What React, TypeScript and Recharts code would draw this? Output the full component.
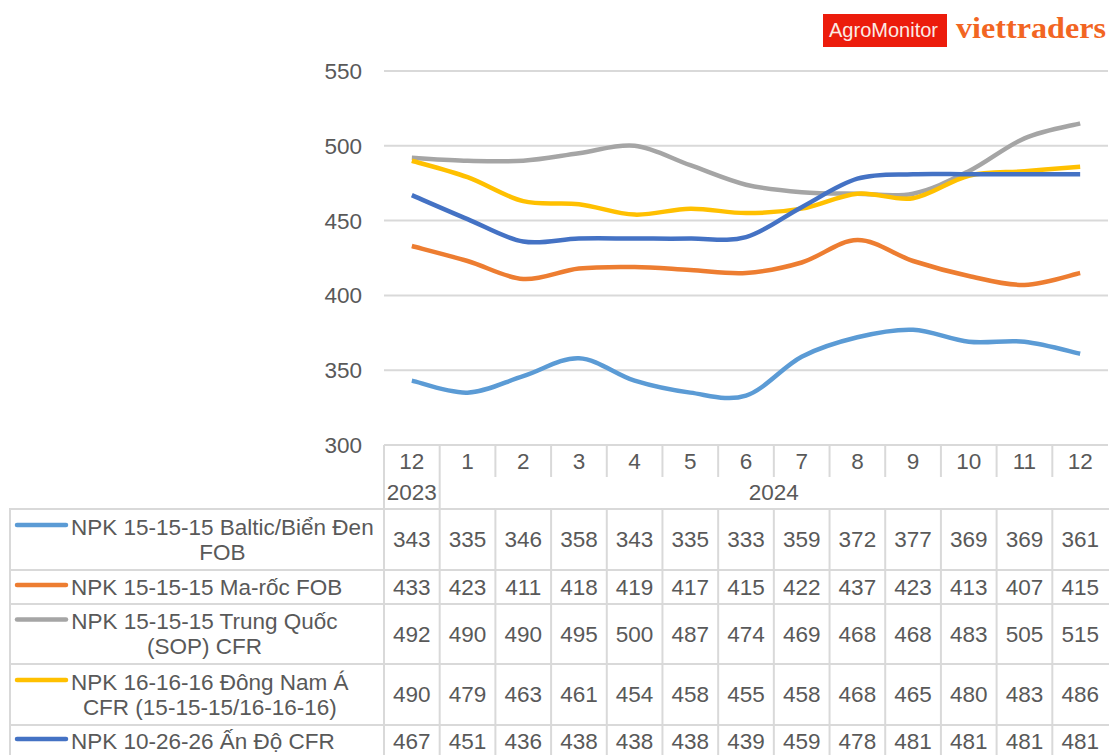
import React from 'react';
import { LineChart, Line, XAxis, YAxis, CartesianGrid } from 'recharts';

// months on the category axis (12/2023 then 1..12/2024)
const months = ['12', '1', '2', '3', '4', '5', '6', '7', '8', '9', '10', '11', '12'];
const yearLabels = ['2023', '2024'];

const baltic = [343, 335, 346, 358, 343, 335, 333, 359, 372, 377, 369, 369, 361];
const maroc = [433, 423, 411, 418, 419, 417, 415, 422, 437, 423, 413, 407, 415];
const trungQuoc = [492, 490, 490, 495, 500, 487, 474, 469, 468, 468, 483, 505, 515];
const dongNamA = [490, 479, 463, 461, 454, 458, 455, 458, 468, 465, 480, 483, 486];
const anDo = [467, 451, 436, 438, 438, 438, 439, 459, 478, 481, 481, 481, 481];

const seriesKeys = ['baltic', 'maroc', 'trungQuoc', 'dongNamA', 'anDo'];
const seriesValues = [baltic, maroc, trungQuoc, dongNamA, anDo];
const seriesNames = [
  ['NPK 15-15-15 Baltic/Biển Đen', 'FOB'],
  ['NPK 15-15-15 Ma-rốc FOB'],
  ['NPK 15-15-15 Trung Quốc', '(SOP) CFR'],
  ['NPK 16-16-16 Đông Nam Á', 'CFR (15-15-15/16-16-16)'],
  ['NPK 10-26-26 Ấn Độ CFR'],
];
const seriesColors = ['#5B9BD5', '#ED7D31', '#A5A5A5', '#FFC000', '#4472C4'];
const yTicks = [300, 350, 400, 450, 500, 550];

const data = months.map((m, i) => {
  const row: Record<string, any> = { month: m };
  seriesKeys.forEach((k, s) => (row[k] = seriesValues[s][i]));
  return row;
});

// layout
const W = 1110;
const H = 755;
const PLOT_LEFT = 384;
const PLOT_RIGHT = 1108;
const PLOT_TOP = 71;
const AXIS_Y = 445;
const BAND = (PLOT_RIGHT - PLOT_LEFT) / months.length;
const FONT = '"Liberation Sans", Arial, sans-serif';
const FS = 22.5;
const TEXT = '#595959';
const BORDER = '#D9D9D9';
const HEADER_TICK_END = 477;
const TABLE_TOP = 509;
const ROWS = [
  { top: 509, bottom: 570 },
  { top: 570, bottom: 604 },
  { top: 604, bottom: 664 },
  { top: 664, bottom: 725 },
  { top: 725, bottom: 757 },
];
const LABEL_LEFT = 10;
const LABEL_TEXT_X = 71;

let ctx: CanvasRenderingContext2D | null = null;
function textWidth(s: string) {
  if (!ctx) ctx = document.createElement('canvas').getContext('2d');
  if (!ctx) return s.length * FS * 0.5;
  ctx.font = `${FS}px "Liberation Sans", Arial, sans-serif`;
  return ctx.measureText(s).width;
}

// Excel-like smoothed line (Catmull-Rom as cubic bezier)
function excelCurve(context: any) {
  let pts: number[][] = [];
  return {
    areaStart() {},
    areaEnd() {},
    lineStart() {
      pts = [];
    },
    point(x: number, y: number) {
      pts.push([+x, +y]);
    },
    lineEnd() {
      if (!pts.length) return;
      context.moveTo(pts[0][0], pts[0][1]);
      for (let i = 0; i < pts.length - 1; i++) {
        const p0 = pts[i - 1] || pts[i];
        const p1 = pts[i];
        const p2 = pts[i + 1];
        const p3 = pts[i + 2] || p2;
        context.bezierCurveTo(
          p1[0] + (p2[0] - p0[0]) / 6,
          p1[1] + (p2[1] - p0[1]) / 6,
          p2[0] - (p3[0] - p1[0]) / 6,
          p2[1] - (p3[1] - p1[1]) / 6,
          p2[0],
          p2[1]
        );
      }
    },
  };
}

function txt(x: number, y: number, s: string, anchor = 'middle', key?: string) {
  return (
    <text key={key} x={x} y={y} dy="0.35em" textAnchor={anchor} fontFamily={FONT} fontSize={FS} fill={TEXT}>
      {s}
    </text>
  );
}

function line(x1: number, y1: number, x2: number, y2: number, key: string) {
  return <line key={key} x1={x1} y1={y1} x2={x2} y2={y2} stroke={BORDER} strokeWidth={2} />;
}

// each x tick draws one column of the data table
function TableColumn(props: any) {
  const { x, index } = props;
  const left = x - BAND / 2;
  const right = x + BAND / 2;
  const els: React.ReactNode[] = [];

  els.push(txt(x, 461, months[index], 'middle', 'm'));
  if (index === 0) els.push(txt(x, 492, yearLabels[0], 'middle', 'y0'));
  if (index === 6) els.push(txt(right, 492, yearLabels[1], 'middle', 'y1'));

  // vertical borders
  if (index <= 1) {
    els.push(line(left, AXIS_Y, left, H + 5, 'vl'));
  } else {
    els.push(line(left, AXIS_Y, left, HEADER_TICK_END, 'vh'));
    els.push(line(left, TABLE_TOP, left, H + 5, 'vb'));
  }
  // horizontal borders
  ROWS.forEach((r, s) => els.push(line(left - 1, r.top, right + 1, r.top, `h${s}`)));

  // values
  seriesValues.forEach((vals, s) => {
    const r = ROWS[s];
    els.push(txt(x, (r.top + r.bottom) / 2, String(vals[index]), 'middle', `v${s}`));
  });

  // label column with legend keys
  if (index === 0) {
    els.push(line(LABEL_LEFT, TABLE_TOP - 1, LABEL_LEFT, H + 5, 'll'));
    ROWS.forEach((r, s) => els.push(line(LABEL_LEFT - 1, r.top, left, r.top, `lh${s}`)));
    seriesNames.forEach((lines, s) => {
      const r = ROWS[s];
      const mid = (r.top + r.bottom) / 2;
      const first = lines.length > 1 ? mid - 12.5 : mid;
      const maxW = Math.max(...lines.map(textWidth));
      const cx = LABEL_TEXT_X + maxW / 2;
      els.push(
        <line
          key={`k${s}`}
          x1={17}
          x2={66}
          y1={first - 2}
          y2={first - 2}
          stroke={seriesColors[s]}
          strokeWidth={4.5}
          strokeLinecap="round"
        />
      );
      lines.forEach((l, j) => els.push(txt(cx, first + j * 25, l, 'middle', `t${s}${j}`)));
    });
  }
  return <g>{els}</g>;
}

function Logo() {
  return (
    <svg width={W} height={60} style={{ position: 'absolute', left: 0, top: 0 }}>
      <rect x={823} y={14} width={124} height={33} fill="#EC1C0C" />
      <text x={829} y={37} fontFamily={FONT} fontSize={21} fill="#FBEAE4" textLength={109} lengthAdjust="spacingAndGlyphs">
        AgroMonitor
      </text>
      <text
        x={956}
        y={38}
        fontFamily='"Liberation Serif", "DejaVu Serif", serif'
        fontWeight="bold"
        fontSize={29}
        fill="#F26522"
        textLength={150}
        lengthAdjust="spacingAndGlyphs"
      >
        viettraders
      </text>
    </svg>
  );
}

export default function App() {
  return (
    <div style={{ position: 'absolute', left: 0, top: 0, width: W, height: H, background: '#fff' }}>
      <LineChart
        width={W}
        height={H}
        data={data}
        margin={{ top: PLOT_TOP, right: W - PLOT_RIGHT, bottom: 0, left: 0 }}
      >
        <CartesianGrid vertical={false} stroke={BORDER} strokeWidth={2} />
        <XAxis
          dataKey="month"
          height={H - AXIS_Y}
          interval={0}
          padding={{ left: BAND / 2, right: BAND / 2 }}
          axisLine={{ stroke: BORDER, strokeWidth: 2 }}
          tickLine={false}
          tickSize={0}
          tick={<TableColumn />}
        />
        <YAxis
          width={PLOT_LEFT}
          domain={[300, 550]}
          ticks={yTicks}
          axisLine={false}
          tickLine={false}
          tickSize={0}
          tickMargin={22}
          tick={{ fill: TEXT, fontSize: FS, fontFamily: FONT }}
        />
        {seriesKeys.map((k, s) => (
          <Line
            key={k}
            dataKey={k}
            type={excelCurve as any}
            stroke={seriesColors[s]}
            strokeWidth={4.5}
            dot={false}
            activeDot={false}
            isAnimationActive={false}
          />
        ))}
      </LineChart>
      <Logo />
    </div>
  );
}
